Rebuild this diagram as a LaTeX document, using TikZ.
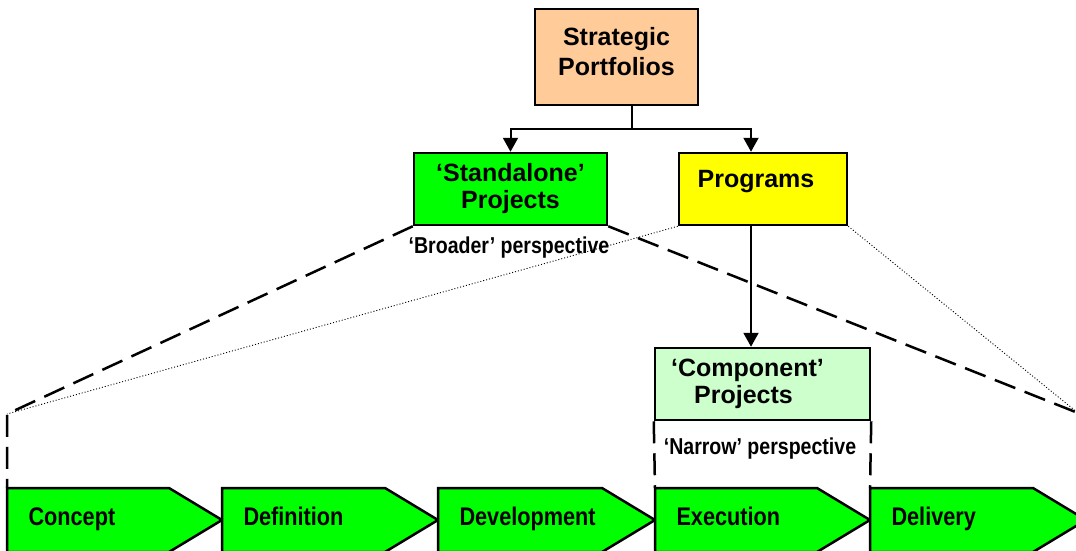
\documentclass[tikz,border=0pt]{standalone}
\usepackage{fontspec}
\setmainfont{Liberation Sans}
\newfontfamily\narrowfont{Liberation Sans}[FakeStretch=0.85]
\usetikzlibrary{arrows.meta}

\definecolor{peach}{RGB}{255,204,153}
\definecolor{phasegreen}{RGB}{0,255,0}
\definecolor{progyellow}{RGB}{255,255,0}
\definecolor{compgreen}{RGB}{204,255,204}

\tikzset{
  box/.style={draw,line width=2.5pt,inner sep=0pt,align=center,font=\bfseries\fontsize{25}{27}\selectfont},
  link/.style={line width=2pt},
  arr/.style={link,-{Triangle[width=15pt,length=14pt]}},
  lens/.style={line width=2.5pt,dash pattern=on 22pt off 10pt},
  fine/.style={line width=0.9pt,dash pattern=on 1pt off 2pt},
  phase/.style={draw,line width=2.5pt,fill=phasegreen},
  phasetext/.style={anchor=base west,font=\narrowfont\bfseries\fontsize{25.5}{28}\selectfont},
  view/.style={anchor=base,font=\narrowfont\bfseries\fontsize{23}{26}\selectfont}
}

\begin{document}
\begin{tikzpicture}[x=1pt,y=-1pt]
    \useasboundingbox (0,0) rectangle (1076,550);

    % boxes
    \node[box,fill=peach,minimum width=163pt,text height=66pt,text depth=30pt,font=\bfseries\fontsize{25}{30}\selectfont] (strat) at (616.5,57) {Strategic\\Portfolios};
    \node[box,fill=phasegreen,minimum width=193pt,minimum height=72pt] (alone) at (510.5,189) {‘Standalone’\\Projects};
    \node[box,fill=progyellow,minimum width=168pt,minimum height=72pt,text height=34pt,text depth=38pt] (prog) at (763,189) {Programs\hspace*{14pt}};
    \node[box,fill=compgreen,minimum width=215pt,minimum height=72pt] (comp) at (762.5,384) {‘Component’\hspace*{30pt}\\Projects\hspace*{38pt}};

    \node[view] (broad) at (509,253) {‘Broader’ perspective};
    \node[view] (narrow) at (760,454) {‘Narrow’ perspective};

    % phases
    \foreach \l/\r/\name/\txt in {7/222/concept/Concept,222/438/defin/Definition,438/655/devel/Development,655/870/exec/Execution,870/1086/deliv/Delivery}{
        \draw[phase] (\l,488) -- (\r-53,488) -- (\r,520) -- (\r-53,552) -- (\l,552) -- cycle;
        \coordinate (\name-nw) at (\l,488);
        \node[phasetext] (\name) at (\l+18,525) {\txt};
    }

    % hierarchy
    \draw[link] ([xshift=15pt]strat.south) -- ++(0,23) coordinate (fork);
    \draw[arr] (fork) -| (alone.north);
    \draw[arr] (fork) -| ([xshift=-12pt]prog.north);
    \draw[arr] ([xshift=-12pt]prog.south) -- ([xshift=-11.5pt]comp.north);

    % perspectives
    \coordinate (ltip) at (7,414);
    \coordinate (rtip) at (1078,413);
    \draw[lens] (alone.south west) -- (ltip) -- (concept-nw);
    \draw[lens] (alone.south east) -- (rtip);
    \draw[lens] (comp.south west) -- (exec-nw);
    \draw[lens] (comp.south east) -- (deliv-nw);
    \draw[fine] (prog.south west) -- (ltip);
    \draw[fine] (prog.south east) -- (rtip);

\end{tikzpicture}
\end{document}
